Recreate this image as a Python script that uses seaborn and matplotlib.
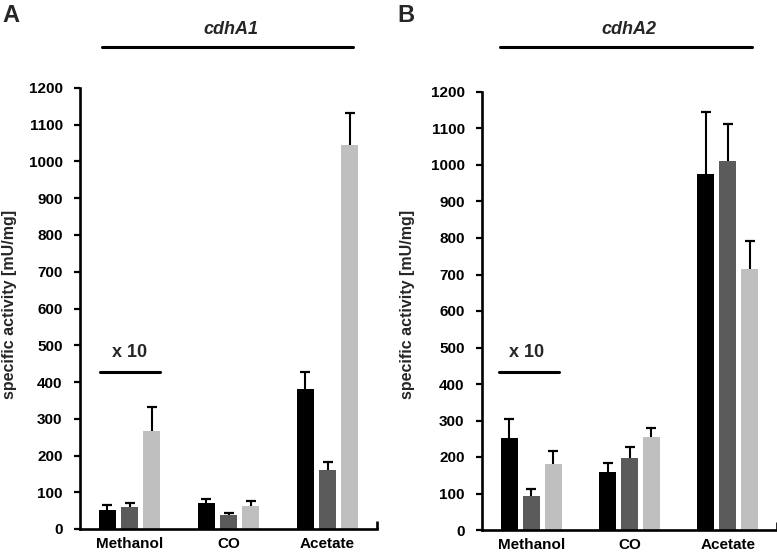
import numpy as np
import pandas as pd
import seaborn as sns
import matplotlib.pyplot as plt

# data
categories = ["Methanol", "CO", "Acetate"]
conditions = ["c1", "c2", "c3"]
bar_colors = ["#000000", "#5b5b5b", "#bfbfbf"]

# panel A, cdhA1 (rows = substrate, cols = condition)
cdhA1_mean = [[53, 59, 266],
              [70, 38, 63],
              [380, 160, 1045]]
cdhA1_err = [[12, 11, 66],
             [12, 6, 13],
             [46, 22, 86]]

# panel B, cdhA2
cdhA2_mean = [[252, 94, 180],
              [159, 198, 256],
              [974, 1011, 714]]
cdhA2_err = [[51, 17, 36],
             [25, 29, 23],
             [171, 102, 79]]

yticks = list(range(0, 1201, 100))

sns.set_style("white")
plt.rcParams["font.family"] = ["Liberation Sans", "DejaVu Sans"]
plt.rcParams["font.weight"] = "bold"

W, H = 777, 553
fig = plt.figure(figsize=(W / 100, H / 100), dpi=100)


def px_axes(left, right, top, bottom):
    return fig.add_axes([left / W, 1 - bottom / H, (right - left) / W, (bottom - top) / H])


def make_df(means):
    rows = []
    for i, sub in enumerate(categories):
        for j, cond in enumerate(conditions):
            rows.append({"substrate": sub, "condition": cond, "activity": means[i][j]})
    return pd.DataFrame(rows)


def draw_panel(ax, means, errs, gene, line_x, line_y, text_pos, x10_line, x10_text):
    df = make_df(means)
    sns.barplot(data=df, x="substrate", y="activity", hue="condition",
                order=categories, hue_order=conditions, palette=bar_colors,
                saturation=1, width=0.667, gap=0.225, errorbar=None,
                legend=False, linewidth=0, ax=ax)

    # one-sided error bars: stem from bar top, cap only at the upper end
    bar_containers = list(ax.containers)
    for j, container in enumerate(bar_containers):
        xs = np.array([r.get_x() + r.get_width() / 2 for r in container])
        hs = np.array([r.get_height() for r in container])
        up = np.array([errs[i][j] for i in range(len(categories))])
        ax.errorbar(xs, hs, yerr=[np.zeros(len(up)), up], fmt="none",
                    ecolor="black", elinewidth=1.5, capsize=0)
        ax.plot(xs, hs + up, linestyle="none", marker="_", markersize=7,
                markeredgewidth=1.6, color="black", clip_on=False)

    ax.set_xlim(-0.5, 2.5)
    ax.set_ylim(0, 1200)
    ax.set_yticks(yticks)
    ax.set_xlabel("")
    ax.set_ylabel("")
    sns.despine(ax=ax)
    for s in ["left", "bottom"]:
        ax.spines[s].set_linewidth(1.9)
        ax.spines[s].set_color("black")
    ax.tick_params(axis="y", left=True, length=4.5, width=1.6, pad=8,
                   labelsize=11, colors="black")
    ax.tick_params(axis="x", which="major", bottom=False, length=0, pad=6,
                   labelsize=11, colors="black")
    ax.set_xticks([2.5], minor=True)
    ax.tick_params(axis="x", which="minor", bottom=True, direction="in",
                   length=6, width=1.9, color="black")
    for lab in ax.get_xticklabels() + ax.get_yticklabels():
        lab.set_fontweight("bold")

    # gene header
    ax.plot(line_x, [line_y, line_y], transform=ax.transAxes, clip_on=False,
            color="black", lw=2.2)
    ax.text(text_pos[0], text_pos[1], gene, transform=ax.transAxes,
            ha="center", va="center", fontsize=13, fontweight="bold",
            fontstyle="italic")

    # "x 10" marker above methanol
    ax.plot(x10_line[0], x10_line[1], color="black", lw=2.2, clip_on=False)
    ax.text(x10_text[0], x10_text[1], "x 10", ha="center", va="center",
            fontsize=13, fontweight="bold")


axA = px_axes(80, 377, 88, 529)
draw_panel(axA, cdhA1_mean, cdhA1_err, "cdhA1",
           [0.074, 0.919], 1.093, (0.508, 1.132),
           ([-0.30, 0.31], [427, 427]), (0.0, 480))

axB = px_axes(482, 777, 92, 530)
draw_panel(axB, cdhA2_mean, cdhA2_err, "cdhA2",
           [0.061, 0.915], 1.103, (0.498, 1.142),
           ([-0.33, 0.28], [433, 433]), (-0.05, 485))

fig.text(10 / W, 1 - 304 / H, "specific activity [mU/mg]", rotation=90,
         ha="center", va="center", fontsize=11.5, fontweight="bold")
fig.text(408 / W, 1 - 304 / H, "specific activity [mU/mg]", rotation=90,
         ha="center", va="center", fontsize=11.5, fontweight="bold")

fig.text(2 / W, 1 - 4 / H, "A", ha="left", va="top", fontsize=17, fontweight="bold")
fig.text(397 / W, 1 - 4 / H, "B", ha="left", va="top", fontsize=17, fontweight="bold")

fig.savefig("out.png", dpi=100, facecolor="white")
